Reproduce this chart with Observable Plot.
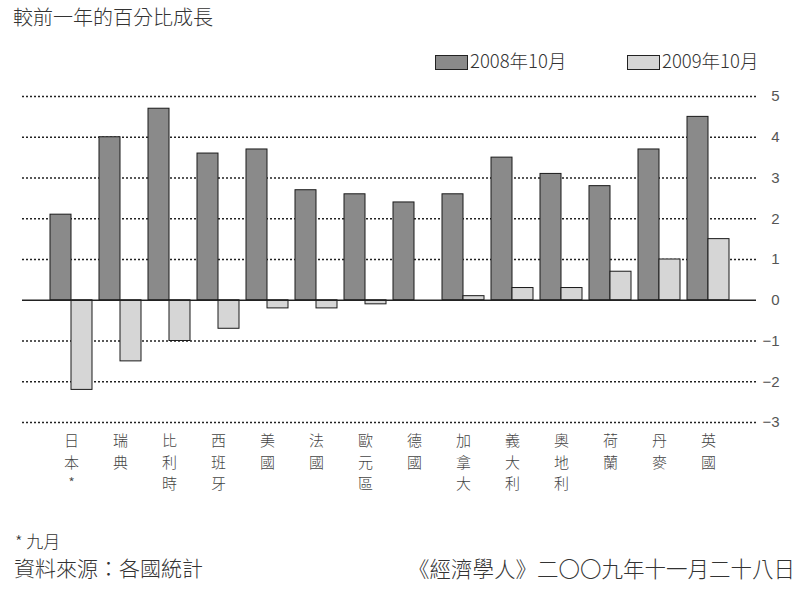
<!DOCTYPE html>
<html><head><meta charset="utf-8">
<script src="https://cdn.jsdelivr.net/npm/d3@7"></script>
<script src="https://cdn.jsdelivr.net/npm/@observablehq/plot@0.6"></script>
<style>
body{margin:0;background:#fff;width:809px;height:589px;overflow:hidden;position:relative;font-family:"Noto Sans CJK TC","Noto Sans",sans-serif;color:#333;}
.abs{position:absolute;white-space:nowrap;line-height:1;}
.sw{position:absolute;width:31px;height:13px;border:1px solid #222;}
#chart{position:absolute;left:0;top:80px;}
</style></head>
<body>
<div class="abs" style="left:13px;top:7px;font-size:20px;font-weight:300;">較前一年的百分比成長</div>
<div id="legend"></div>
<div id="chart"></div>
<div class="abs" style="left:15px;top:532px;font-size:17px;font-weight:300;">* 九月</div>
<div class="abs" style="left:14px;top:557px;font-size:21px;font-weight:300;">資料來源：各國統計</div>
<div class="abs" style="right:14px;top:557px;font-size:21.5px;font-weight:300;">《經濟學人》二〇〇九年十一月二十八日</div>
<script>
const countries = ["日本*","瑞典","比利時","西班牙","美國","法國","歐元區","德國","加拿大","義大利","奧地利","荷蘭","丹麥","英國"];
const oct2008 = [2.1,4.0,4.7,3.6,3.7,2.7,2.6,2.4,2.6,3.5,3.1,2.8,3.7,4.5];
const oct2009 = [-2.2,-1.5,-1.0,-0.7,-0.2,-0.2,-0.1,0,0.1,0.3,0.3,0.7,1.0,1.5];
const seriesNames = ["2008年10月","2009年10月"];
const seriesColors = ["#8a8a8a","#d6d6d6"];
const yTicks = [-3,-2,-1,0,1,2,3,4,5];

const d08 = countries.map((c,i)=>({country:c, value:oct2008[i]}));
const d09 = countries.map((c,i)=>({country:c, value:oct2009[i]}));

// legend
const leg = document.getElementById("legend");
const legX = [435, 627];
seriesNames.forEach((s,i)=>{
  const sw = document.createElement("div");
  sw.className="sw"; sw.style.left=legX[i]+"px"; sw.style.top="55px"; sw.style.background=seriesColors[i];
  leg.appendChild(sw);
  const t = document.createElement("div");
  t.className="abs"; t.style.left=(legX[i]+35)+"px"; t.style.top="51px"; t.style.fontSize="18.5px"; t.style.fontWeight="300";
  t.textContent=s; leg.appendChild(t);
});

const chart = Plot.plot({
  width: 809,
  height: 440,
  marginTop: 16,
  marginBottom: 98,
  marginLeft: 22,
  marginRight: 53,
  style: {fontFamily: '"Liberation Sans", Arial, sans-serif', color: "#555", background: "transparent"},
  x: {domain: countries, paddingInner: 0.15, paddingOuter: 0.48, label: null},
  y: {domain: [-3, 5], label: null},
  marks: [
    Plot.ruleY(yTicks.filter(d=>d!==0), {stroke:"#222", strokeWidth:1.3, strokeDasharray:"2,2"}),
    Plot.barY(d08, {x:"country", y:"value", fill:seriesColors[0], stroke:"#1a1a1a", strokeWidth:1, insetRight:21}),
    Plot.barY(d09, {x:"country", y:"value", fill:seriesColors[1], stroke:"#1a1a1a", strokeWidth:1, insetLeft:21}),
    Plot.ruleY([0], {stroke:"#222", strokeWidth:1.3}),
    Plot.axisY({anchor:"right", ticks: yTicks, tickSize:0, tickPadding:23, textAnchor:"end", fontSize:15, fill:"#555", label:null}),
    Plot.axisX({anchor:"bottom", tickSize:0, tickPadding:8, fontSize:15, fill:"#444", lineHeight:1.45,
      fontFamily:'"Noto Sans CJK TC", sans-serif', fontWeight:300,
      tickFormat: d => d.split("").join("\n"), label:null})
  ]
});
document.getElementById("chart").appendChild(chart);
</script>
</body></html>
